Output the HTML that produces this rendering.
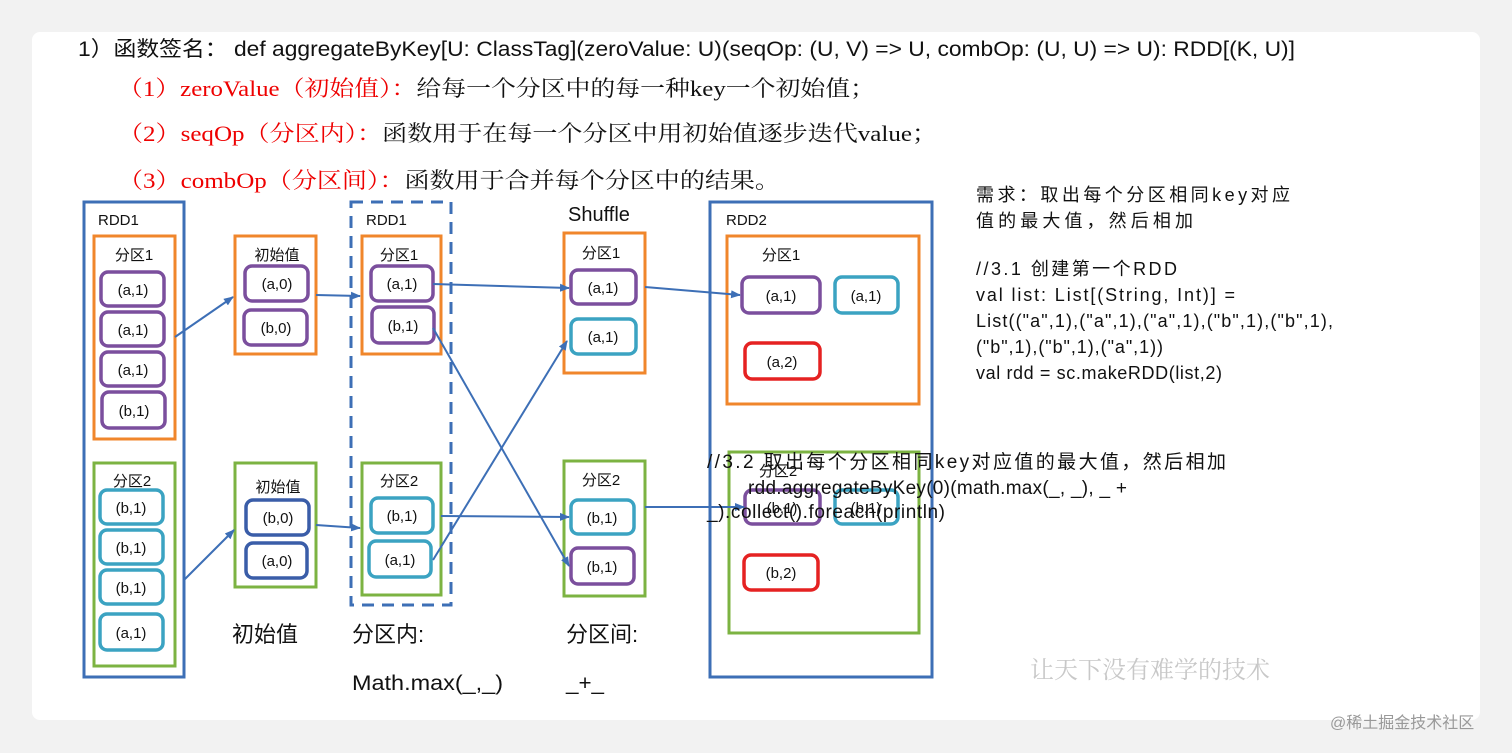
<!DOCTYPE html>
<html><head><meta charset="utf-8"><style>
body{margin:0;background:#f2f2f2;width:1512px;height:753px;overflow:hidden}
.card{position:absolute;left:32px;top:32px;width:1448px;height:688px;background:#fff;border-radius:8px}
svg{position:absolute;left:0;top:0}
text{font-family:"Liberation Sans","Noto Sans CJK SC",sans-serif}
.s{font-family:"Liberation Serif","Noto Serif CJK SC",serif}
</style></head><body>
<div class="card"></div>
<svg width="1512" height="753" viewBox="0 0 1512 753">
<defs><marker id="a" markerWidth="10" markerHeight="10" refX="9" refY="5" orient="auto" markerUnits="userSpaceOnUse"><path d="M0,1 L10,5 L0,9z" fill="#3d6fb6"/></marker></defs>
<text x="78" y="56" font-size="21" fill="#111" textLength="1217" lengthAdjust="spacingAndGlyphs">1）函数签名： def aggregateByKey[U: ClassTag](zeroValue: U)(seqOp: (U, V) =&gt; U,  combOp: (U, U) =&gt; U): RDD[(K, U)]</text>
<g font-size="22">
<text class="s" x="118" y="96" fill="#e00" textLength="757" lengthAdjust="spacingAndGlyphs">（1）zeroValue（初始值）：<tspan fill="#111">给每一个分区中的每一种key一个初始值；</tspan></text>
<text class="s" x="118" y="141" fill="#e00" textLength="819" lengthAdjust="spacingAndGlyphs">（2）seqOp（分区内）：<tspan fill="#111">函数用于在每一个分区中用初始值逐步迭代value；</tspan></text>
<text class="s" x="118" y="188" fill="#e00" textLength="662" lengthAdjust="spacingAndGlyphs">（3）combOp（分区间）：<tspan fill="#111">函数用于合并每个分区中的结果。</tspan></text>
</g>
<g font-size="18" fill="#111" lengthAdjust="spacingAndGlyphs">
<text x="976" y="201" textLength="314">需求：取出每个分区相同key对应</text>
<text x="976" y="227" textLength="217">值的最大值，然后相加</text>
<text x="976" y="275" textLength="201">//3.1 创建第一个RDD</text>
<text x="976" y="301" textLength="259">val list: List[(String, Int)] =</text>
<text x="976" y="327" textLength="357">List(("a",1),("a",1),("a",1),("b",1),("b",1),</text>
<text x="976" y="353" textLength="187">("b",1),("b",1),("a",1))</text>
<text x="976" y="379" textLength="246">val rdd = sc.makeRDD(list,2)</text>
</g>
<g fill="none" stroke-width="3">
<rect x="84" y="202" width="100" height="475" stroke="#3d6fb6"/>
<rect x="94" y="236" width="81" height="203" stroke="#f0862b"/>
<rect x="94" y="463" width="81" height="203" stroke="#7cb342"/>
<rect x="235" y="236" width="81" height="118" stroke="#f0862b"/>
<rect x="235" y="463" width="81" height="124" stroke="#7cb342"/>
<rect x="351" y="202" width="100" height="403" stroke="#3d6fb6" stroke-dasharray="12,8"/>
<rect x="362" y="236" width="79" height="118" stroke="#f0862b"/>
<rect x="362" y="463" width="79" height="132" stroke="#7cb342"/>
<rect x="564" y="233" width="81" height="140" stroke="#f0862b"/>
<rect x="564" y="461" width="81" height="135" stroke="#7cb342"/>
<rect x="710" y="202" width="222" height="475" stroke="#3d6fb6"/>
<rect x="727" y="236" width="192" height="168" stroke="#f0862b"/>
<rect x="729" y="452" width="190" height="181" stroke="#7cb342"/>
</g>
<g fill="#fff" stroke-width="3.5">
<rect x="101" y="272" width="63" height="34" rx="7" stroke="#7b4f9d"/>
<rect x="101" y="312" width="63" height="34" rx="7" stroke="#7b4f9d"/>
<rect x="101" y="352" width="63" height="34" rx="7" stroke="#7b4f9d"/>
<rect x="102" y="392" width="63" height="36" rx="7" stroke="#7b4f9d"/>
<rect x="100" y="490" width="63" height="34" rx="7" stroke="#3ba3c2"/>
<rect x="100" y="530" width="63" height="34" rx="7" stroke="#3ba3c2"/>
<rect x="100" y="570" width="63" height="34" rx="7" stroke="#3ba3c2"/>
<rect x="100" y="614" width="63" height="36" rx="7" stroke="#3ba3c2"/>
<rect x="245" y="266" width="63" height="35" rx="7" stroke="#7b4f9d"/>
<rect x="244" y="310" width="63" height="35" rx="7" stroke="#7b4f9d"/>
<rect x="246" y="500" width="63" height="35" rx="7" stroke="#3a5da8"/>
<rect x="246" y="543" width="61" height="35" rx="7" stroke="#3a5da8"/>
<rect x="371" y="266" width="62" height="35" rx="7" stroke="#7b4f9d"/>
<rect x="372" y="307" width="62" height="36" rx="7" stroke="#7b4f9d"/>
<rect x="371" y="498" width="62" height="35" rx="7" stroke="#3ba3c2"/>
<rect x="369" y="541" width="62" height="36" rx="7" stroke="#3ba3c2"/>
<rect x="571" y="270" width="65" height="34" rx="7" stroke="#7b4f9d"/>
<rect x="571" y="319" width="65" height="35" rx="7" stroke="#3ba3c2"/>
<rect x="571" y="500" width="63" height="34" rx="7" stroke="#3ba3c2"/>
<rect x="571" y="548" width="63" height="36" rx="7" stroke="#7b4f9d"/>
<rect x="742" y="277" width="78" height="36" rx="7" stroke="#7b4f9d"/>
<rect x="835" y="277" width="63" height="36" rx="7" stroke="#3ba3c2"/>
<rect x="745" y="343" width="75" height="36" rx="7" stroke="#e52222"/>
<rect x="745" y="490" width="75" height="34" rx="7" stroke="#7b4f9d"/>
<rect x="835" y="490" width="63" height="34" rx="7" stroke="#3ba3c2"/>
<rect x="744" y="555" width="74" height="35" rx="7" stroke="#e52222"/>
</g>
<g stroke="#3d6fb6" stroke-width="2" marker-end="url(#a)">
<line x1="175" y1="337" x2="233" y2="297"/>
<line x1="184" y1="580" x2="234" y2="530"/>
<line x1="316" y1="295" x2="360" y2="296"/>
<line x1="316" y1="525" x2="360" y2="528"/>
<line x1="433" y1="284" x2="569" y2="288"/>
<line x1="433" y1="328" x2="569" y2="566"/>
<line x1="433" y1="560" x2="567" y2="341"/>
<line x1="441" y1="516" x2="569" y2="517"/>
<line x1="645" y1="287" x2="740" y2="295"/>
<line x1="645" y1="507" x2="744" y2="507"/>
</g>
<g font-size="15" fill="#111" text-anchor="middle">
<text x="133" y="295">(a,1)</text><text x="133" y="335">(a,1)</text><text x="133" y="375">(a,1)</text><text x="134" y="416">(b,1)</text>
<text x="131" y="513">(b,1)</text><text x="131" y="553">(b,1)</text><text x="131" y="593">(b,1)</text><text x="131" y="638">(a,1)</text>
<text x="277" y="289">(a,0)</text><text x="276" y="333">(b,0)</text><text x="278" y="523">(b,0)</text><text x="277" y="566">(a,0)</text>
<text x="402" y="289">(a,1)</text><text x="403" y="331">(b,1)</text><text x="402" y="521">(b,1)</text><text x="400" y="565">(a,1)</text>
<text x="603" y="293">(a,1)</text><text x="603" y="342">(a,1)</text><text x="602" y="523">(b,1)</text><text x="602" y="572">(b,1)</text>
<text x="781" y="301">(a,1)</text><text x="866" y="301">(a,1)</text><text x="782" y="367">(a,2)</text>
<text x="782" y="513">(b,1)</text><text x="866" y="513">(b,1)</text><text x="781" y="578">(b,2)</text>
<text x="134" y="260">分区1</text><text x="132" y="486">分区2</text><text x="277" y="260">初始值</text><text x="278" y="492">初始值</text>
<text x="399" y="260">分区1</text><text x="399" y="486">分区2</text><text x="601" y="258">分区1</text><text x="601" y="485">分区2</text>
<text x="781" y="260">分区1</text><text x="778" y="476">分区2</text>
</g>
<g font-size="15" fill="#111">
<text x="98" y="225">RDD1</text><text x="366" y="225">RDD1</text><text x="726" y="225">RDD2</text>
</g>
<text x="568" y="221" font-size="20" fill="#111">Shuffle</text>
<g font-size="22" fill="#111">
<text x="232" y="642">初始值</text><text x="352" y="642">分区内:</text><text x="566" y="642">分区间:</text>
<text x="352" y="690" font-size="21" textLength="151" lengthAdjust="spacingAndGlyphs">Math.max(_,_)</text><text x="566" y="690" font-size="21" textLength="38" lengthAdjust="spacingAndGlyphs">_+_</text>
</g>
<g font-size="19" fill="#111" lengthAdjust="spacingAndGlyphs">
<text x="707" y="468" textLength="519">//3.2 取出每个分区相同key对应值的最大值，然后相加</text>
<text x="748" y="494" textLength="379">rdd.aggregateByKey(0)(math.max(_, _), _ +</text>
<text x="707" y="518" textLength="238">_).collect().foreach(println)</text>
</g>
<text x="1030" y="678" font-size="24" fill="#c8c8c8" class="s">让天下没有难学的技术</text>
<text x="1330" y="728" font-size="16" fill="#999">@稀土掘金技术社区</text>
</svg>
</body></html>
